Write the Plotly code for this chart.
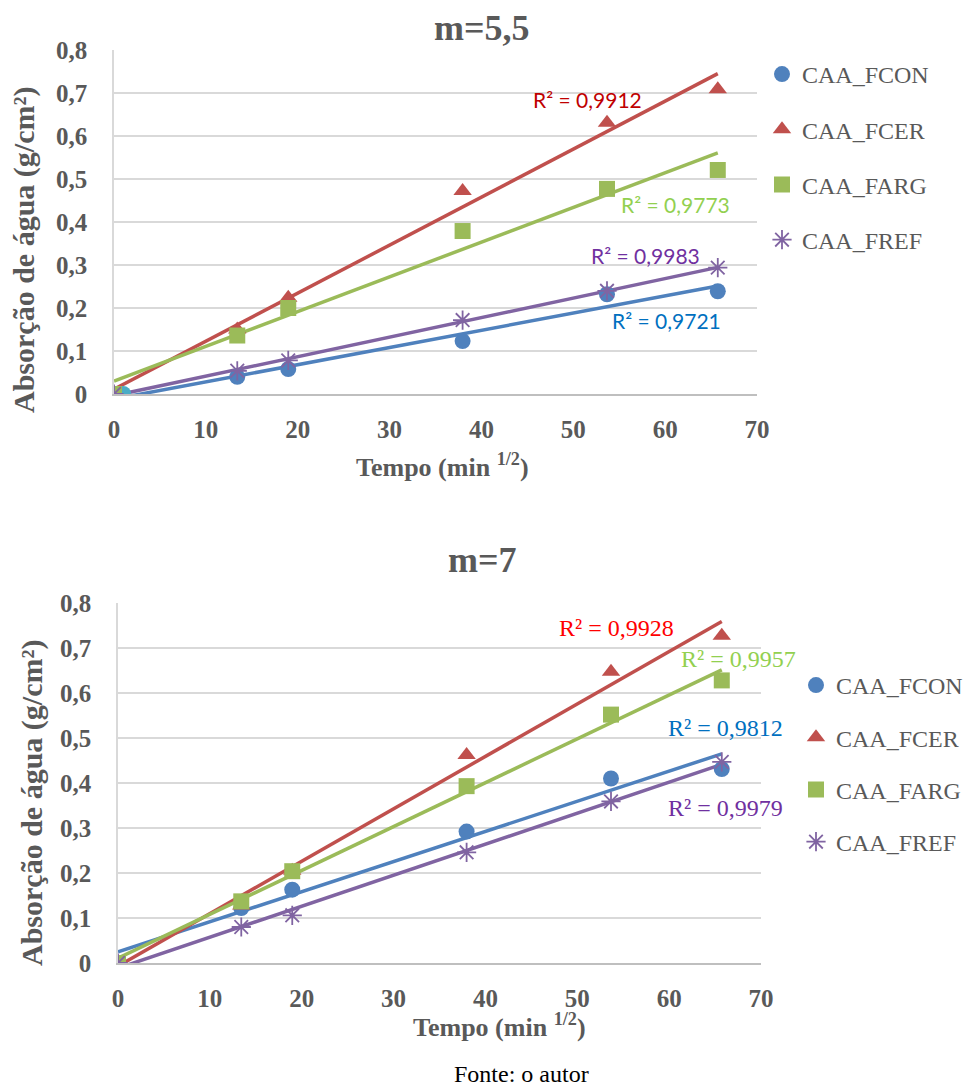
import numpy as np
import plotly.graph_objects as go

# tempo em raiz de minutos
tempo = [0, 13.42, 18.97, 37.95, 53.67, 65.73]
tempo_fcon_55 = [1, 13.42, 18.97, 37.95, 53.67, 65.73]

series = ["CAA_FCON", "CAA_FCER", "CAA_FARG", "CAA_FREF"]

# m=5,5
fcon_55 = [0, 0.040, 0.058, 0.123, 0.232, 0.239]
fcer_55 = [0, 0.150, 0.224, 0.472, 0.631, 0.709]
farg_55 = [0, 0.136, 0.200, 0.379, 0.477, 0.521]
fref_55 = [0, 0.054, 0.078, 0.172, 0.240, 0.294]
r2_55 = ["0,9721", "0,9912", "0,9773", "0,9983"]

# m=7
fcon_7 = [0, 0.122, 0.163, 0.292, 0.410, 0.431]
fcer_7 = [0, 0.128, 0.205, 0.462, 0.647, 0.727]
farg_7 = [0, 0.137, 0.204, 0.393, 0.552, 0.628]
fref_7 = [0, 0.080, 0.106, 0.246, 0.359, 0.447]
r2_7 = ["0,9812", "0,9928", "0,9957", "0,9979"]

cores = ["#4f81bd", "#c0504d", "#9bbb59", "#8064a2"]
simbolos = ["circle", "triangle-up", "square", "asterisk-open"]
cores_r2_55 = ["#0070c0", "#c00000", "#92d050", "#7030a0"]
cores_r2_7 = ["#0070c0", "#ff0000", "#92d050", "#7030a0"]

W, H = 974, 1090
CINZA = "#595959"
SERIF = "Liberation Serif"

fig = go.Figure()


def add_grafico(fig, xs, ys, xa, ya, leg, primeiro_cor=None):
    for i, (x, y) in enumerate(zip(xs, ys)):
        a, b = np.polyfit(x, y, 1)
        xl = np.array([min(x), max(x)])
        fig.add_trace(go.Scatter(
            x=xl, y=a * xl + b, mode="lines",
            line=dict(color=cores[i], width=3.5),
            xaxis=xa, yaxis=ya, showlegend=False, hoverinfo="skip"))
    for i, (nome, x, y) in enumerate(zip(series, xs, ys)):
        marker = dict(symbol=simbolos[i], size=16, color=cores[i])
        if simbolos[i] == "asterisk-open":
            marker["line"] = dict(color=cores[i], width=1.8)
        ini = 0
        if i == 0 and primeiro_cor:
            # primeiro ponto com cor diferente, como no original
            fig.add_trace(go.Scatter(
                x=x[:1], y=y[:1], mode="markers",
                marker=dict(symbol="circle", size=16, color=primeiro_cor),
                xaxis=xa, yaxis=ya, showlegend=False))
            ini = 1
        fig.add_trace(go.Scatter(
            x=x[ini:], y=y[ini:], mode="markers", name=nome, marker=marker,
            xaxis=xa, yaxis=ya, legend=leg, legendgroup=leg + nome))


add_grafico(fig, [tempo_fcon_55, tempo, tempo, tempo],
            [fcon_55, fcer_55, farg_55, fref_55], "x", "y", "legend",
            primeiro_cor="#4bacc6")
add_grafico(fig, [tempo] * 4, [fcon_7, fcer_7, farg_7, fref_7],
            "x2", "y2", "legend2")

tick_font = dict(family=SERIF, size=25, color=CINZA, weight="bold")


def eixo_x(dom, anchor):
    return dict(domain=dom, anchor=anchor, range=[0, 70], dtick=10,
                showgrid=False, zeroline=False, showline=True,
                linecolor="#bfbfbf", linewidth=1.5, tickfont=tick_font,
                ticks="", ticklabelstandoff=12, fixedrange=True,
                automargin=False)


def eixo_y(dom, anchor):
    return dict(domain=dom, anchor=anchor, range=[0, 0.8], dtick=0.1,
                showgrid=True, gridcolor="#d9d9d9", gridwidth=1.5,
                zeroline=False, showline=True, linecolor="#d9d9d9",
                linewidth=1.5, tickfont=tick_font, ticks="",
                ticklabelstandoff=20, fixedrange=True, automargin=False)


legenda = dict(font=dict(family=SERIF, size=24, color=CINZA),
               bgcolor="rgba(0,0,0,0)", traceorder="grouped",
               itemsizing="trace", xanchor="left", yanchor="top")

fig.update_layout(
    width=W, height=H,
    margin=dict(l=0, r=0, t=0, b=0, autoexpand=False),
    paper_bgcolor="white", plot_bgcolor="white",
    separators=",.",
    xaxis=eixo_x([114 / W, 757 / W], "y"),
    yaxis=eixo_y([1 - 394 / H, 1 - 50 / H], "x"),
    xaxis2=eixo_x([118 / W, 761 / W], "y2"),
    yaxis2=eixo_y([1 - 963 / H, 1 - 603 / H], "x2"),
    legend=dict(legenda, x=762 / W, y=1 - 52 / H, tracegroupgap=21),
    legend2=dict(legenda, x=796 / W, y=1 - 663 / H, tracegroupgap=18),
)

anot = []


def texto(txt, xc, yc, fonte, **kw):
    anot.append(dict(text=txt, x=xc / W, y=1 - yc / H, xref="paper",
                     yref="paper", xanchor="center", yanchor="middle",
                     showarrow=False, font=fonte, **kw))


# titulos
for txt, yc in [("m=5,5", 28), ("m=7", 560)]:
    texto(txt, 482, yc, dict(family=SERIF, size=36, color=CINZA,
                             weight="bold"))
# titulos dos eixos
for xc, yc in [(442, 465), (500, 1025)]:
    texto("Tempo (min <sup>1/2</sup>)", xc, yc,
          dict(family=SERIF, size=26, color=CINZA, weight="bold"))
for xc, yc in [(24, 250), (32, 803)]:
    texto("Absorção de água (g/cm²)", xc, yc,
          dict(family=SERIF, size=30, color=CINZA, weight="bold"),
          textangle=-90)
# R² m=5,5
pos_55 = [(60.2, 0.172), (51.6, 0.686), (61.1, 0.440), (57.9, 0.323)]
for (xv, yv), r2, cor in zip(pos_55, r2_55, cores_r2_55):
    anot.append(dict(text="R² = " + r2, x=xv, y=yv, xref="x", yref="y",
                     xanchor="center", yanchor="middle", showarrow=False,
                     font=dict(family="Lato", size=21, color=cor)))
# R² m=7
pos_7 = [(66.1, 0.522), (54.3, 0.745), (67.6, 0.676), (66.1, 0.344)]
for (xv, yv), r2, cor in zip(pos_7, r2_7, cores_r2_7):
    anot.append(dict(text="R² = " + r2, x=xv, y=yv, xref="x2", yref="y2",
                     xanchor="center", yanchor="middle", showarrow=False,
                     font=dict(family=SERIF, size=24, color=cor)))
texto("Fonte: o autor", 521, 1074,
      dict(family=SERIF, size=24, color="black"))
fig.update_layout(annotations=anot)

# sem a margem padrao do body
fig.write_html("out.html", config={"displayModeBar": False},
               post_script="document.body.style.margin='0px';")
